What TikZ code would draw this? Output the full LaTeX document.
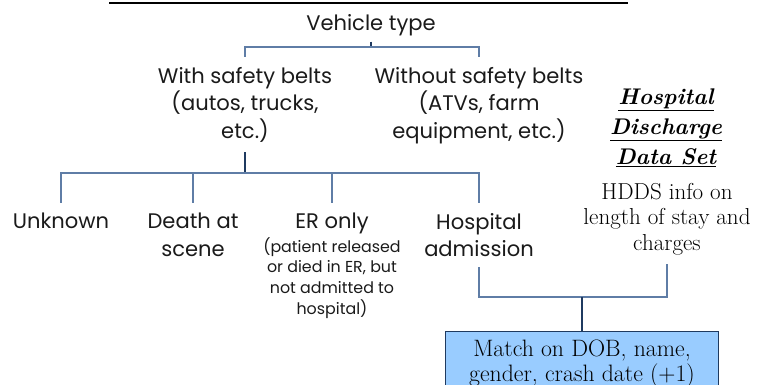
\documentclass[tikz,border=0pt]{standalone}
\usepackage{fontspec}
\newfontfamily\gothic{Poppins}
\definecolor{navy}{HTML}{1F3A60}
\definecolor{steel}{HTML}{5F7DA6}
\definecolor{matchblue}{HTML}{99CCFF}
\definecolor{ink}{HTML}{1A1A1A}
\begin{document}
\begin{tikzpicture}[x=0.75pt, y=-0.75pt]
  \tikzstyle{label} = [font=\gothic\fontsize{15.8}{20.5}\selectfont, text=ink, align=center, anchor=north, inner xsep=0pt, inner ysep=7.5pt]
  \tikzstyle{note} = [font=\gothic\fontsize{11.9}{15.6}\selectfont, text=ink, align=center, anchor=north, inner sep=0pt]
  \tikzstyle{serif} = [font=\fontsize{17.3}{18.9}\selectfont, text=black, align=center, anchor=north, inner xsep=0pt, inner ysep=7pt]
  \tikzstyle{dataset} = [font=\fontsize{17}{22.5}\selectfont\bfseries\itshape, align=center, anchor=north, inner sep=0pt]
  \tikzstyle{match} = [rectangle, draw=navy, fill=matchblue, line width=0.8pt, anchor=north, minimum width=204.75pt, inner ysep=6pt, font=\fontsize{17.8}{18.9}\selectfont, align=center]
  \tikzstyle{stem} = [draw=navy, line width=1.2pt]
  \tikzstyle{stub} = [draw=steel, line width=0.9pt]
  \tikzstyle{titlebar} = [draw=black, line width=1.6pt]

  \useasboundingbox (0,0) rectangle (761,385);
  \clip (0,0) rectangle (761,385);

  \draw[titlebar] (109,3) -- (628,3);

  \node[label, inner ysep=4pt] at (371,9) (vtype) {Vehicle type};
  \node[label] at (245,57) (belts) {With safety belts\\(autos, trucks,\\etc.)};
  \node[label] at (479,57) (nobelts) {Without safety belts\\(ATVs, farm\\equipment, etc.)};
  \node[label] at (61,203) (unknown) {Unknown};
  \node[label] at (193,203) (death) {Death at\\scene};
  \node[label] at (332,203) (er) {ER only};
  \node[note] at (332,237) (ernote) {(patient released\\or died in ER, but\\not admitted to\\hospital)};
  \node[label] at (479,203) (admit) {Hospital\\admission};
  \node[dataset] at (666,88) (hdds) {\underline{Hospital}\\\underline{Discharge}\\\underline{Data Set}};
  \node[serif] at (667,174) (hddsinfo) {HDDS info on\\length of stay and\\charges};
  \node[match] at (582,331) (match) {Match on DOB, name,\\gender, crash date (+1)};

  \coordinate (vbus) at (371,47);
  \coordinate (bbus) at (245,173);
  \coordinate (mbus) at (582,297);

  \draw[stem] (vtype) -- (vbus);
  \draw[stub] (vbus) -| (belts);
  \draw[stub] (vbus) -| (nobelts);
  \draw[stem] (belts) -- (bbus);
  \foreach \n in {unknown, death, er, admit}
    \draw[stub] (bbus) -| (\n);
  \draw[stub] (admit) |- (mbus);
  \draw[stub] (hddsinfo) |- (mbus);
  \draw[stem] (mbus) -- (match);
\end{tikzpicture}
\end{document}
